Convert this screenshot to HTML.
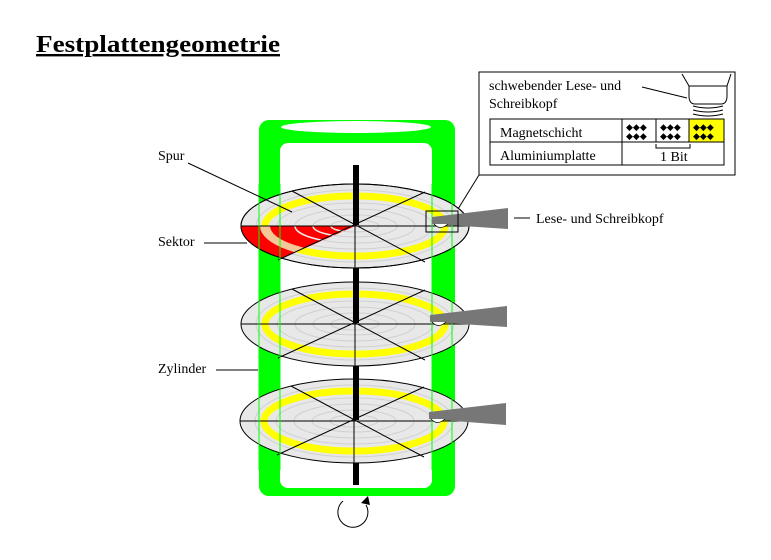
<!DOCTYPE html>
<html><head><style>
body{margin:0;background:#fff;width:771px;height:555px;overflow:hidden}
svg text{font-family:"Liberation Serif",serif}
</style></head><body>
<svg width="771" height="555" viewBox="0 0 771 555" xmlns="http://www.w3.org/2000/svg">
<defs>
<g id="disk">
  <ellipse cx="0" cy="0" rx="114" ry="42" fill="#e8e8e8" stroke="#000" stroke-width="1"/>
  <ellipse cx="0" cy="0" rx="90" ry="30" fill="none" stroke="#ffff00" stroke-width="7"/>
  <ellipse cx="0" cy="0" rx="99" ry="36" fill="none" stroke="#d0d0d0" stroke-width="1"/>
  <ellipse cx="0" cy="0" rx="78" ry="23" fill="none" stroke="#d0d0d0" stroke-width="1"/>
  <ellipse cx="0" cy="0" rx="60" ry="17" fill="none" stroke="#d0d0d0" stroke-width="1"/>
  <ellipse cx="0" cy="0" rx="42" ry="11" fill="none" stroke="#d0d0d0" stroke-width="1"/>
  <ellipse cx="0" cy="0" rx="24" ry="6" fill="none" stroke="#d0d0d0" stroke-width="1"/>
</g>
<g id="lines" stroke="#000" stroke-width="1">
  <line x1="-114" y1="0" x2="114" y2="0"/>
  <line x1="0" y1="-42" x2="0" y2="42"/>
  <line x1="-63" y1="-35" x2="70" y2="36"/>
  <line x1="70" y1="-34" x2="-77" y2="34"/>
</g>
<clipPath id="sec"><polygon points="0,0 -130,0 -130,46 -77,34"/></clipPath>
</defs>

<text x="36" y="52" font-size="24" font-weight="bold" text-decoration="underline" textLength="244" lengthAdjust="spacingAndGlyphs">Festplattengeometrie</text>

<!-- cylinder -->
<rect x="259" y="120" width="196" height="376" rx="10" fill="#00ff00"/>
<rect x="280" y="143" width="152" height="345" rx="8" fill="#fff"/>
<ellipse cx="356" cy="127" rx="75" ry="6" fill="#fff"/>
<rect x="353" y="165" width="6" height="320" fill="#000"/>

<!-- disk 1 -->
<g transform="translate(355,226)">
  <use href="#disk"/>
  <g clip-path="url(#sec)">
    <ellipse cx="0" cy="0" rx="114" ry="42" fill="#ff0000"/>
    <ellipse cx="0" cy="0" rx="95" ry="34" fill="#f2c898"/>
    <ellipse cx="0" cy="0" rx="85" ry="27" fill="#ff0000"/>
    <ellipse cx="0" cy="0" rx="60" ry="17" fill="none" stroke="#eee" stroke-width="1.5"/>
    <ellipse cx="0" cy="0" rx="42" ry="11" fill="none" stroke="#eee" stroke-width="1.5"/>
    <ellipse cx="0" cy="0" rx="24" ry="6" fill="none" stroke="#eee" stroke-width="1.5"/>
  </g>
  <ellipse cx="0" cy="0" rx="114" ry="42" fill="none" stroke="#000"/>
  <use href="#lines"/>
</g>
<!-- disk 2 -->
<g transform="translate(355,324)"><use href="#disk"/><use href="#lines"/></g>
<!-- disk 3 -->
<g transform="translate(354,421)"><use href="#disk"/><use href="#lines"/></g>

<!-- green outlines over disks -->
<g stroke="#00ff00" stroke-width="1">
<line x1="259" y1="184" x2="259" y2="470"/><line x1="280" y1="184" x2="280" y2="470"/>
<line x1="432" y1="184" x2="432" y2="470"/><line x1="452" y1="184" x2="452" y2="470"/>
</g>
<rect x="353" y="165" width="6" height="60" fill="#000"/>
<rect x="353" y="271" width="6" height="52" fill="#000"/>
<rect x="353" y="368" width="6" height="52" fill="#000"/>

<!-- heads -->
<g fill="#777">
<polygon points="432,217 508,208 508,229 432,224"/>
<polygon points="430,315 507,306 507,327 430,322"/>
<polygon points="429,412 506,403 506,425 429,419"/>
</g>
<g fill="#fff" stroke="#000" stroke-width="0.8">
<path d="M434,224 Q440,231 448,224"/>
<path d="M432,322 Q438,329 446,322"/>
<path d="M431,419 Q437,426 445,419"/>
</g>
<rect x="426" y="211" width="32" height="21" fill="none" stroke="#000"/>

<!-- rotation arrow -->
<path d="M343,501 A15,15 0 1 0 366,505" fill="none" stroke="#000"/>
<polygon points="361,503 368,496 370,505" fill="#000"/>

<!-- labels -->
<g font-size="14">
<text x="158" y="160">Spur</text>
<text x="158" y="246">Sektor</text>
<text x="158" y="373">Zylinder</text>
<text x="536" y="223">Lese- und Schreibkopf</text>
</g>
<g stroke="#000" stroke-width="1">
<line x1="188" y1="163" x2="292" y2="212"/>
<line x1="204" y1="243" x2="247" y2="243"/>
<line x1="216" y1="370" x2="258" y2="370"/>
<line x1="514" y1="218" x2="530" y2="218"/>
<line x1="458" y1="209" x2="479" y2="175"/>
</g>

<!-- inset -->
<rect x="479" y="72" width="256" height="103" fill="#fff" stroke="#000"/>
<g font-size="14">
<text x="489" y="90">schwebender Lese- und</text>
<text x="489" y="108">Schreibkopf</text>
</g>
<line x1="642" y1="87" x2="687" y2="98" stroke="#000"/>
<path d="M682,74 L689,86 L689,96 Q689,104 695,104 L721,104 Q727,104 727,96 L727,86 L731,74" fill="none" stroke="#000"/>
<line x1="689" y1="86" x2="727" y2="86" stroke="#000"/>
<g stroke="#000" fill="none">
<path d="M693,106 Q708,110 723,106"/><path d="M693,110 Q708,114 723,110"/><path d="M693,114 Q708,118 723,114"/>
</g>
<rect x="490" y="119" width="234" height="46" fill="#fff" stroke="#000"/>
<line x1="490" y1="142" x2="724" y2="142" stroke="#000"/>
<line x1="622" y1="119" x2="622" y2="165" stroke="#000"/>
<line x1="656" y1="119" x2="656" y2="142" stroke="#000"/>
<rect x="689" y="119" width="35" height="23" fill="#ffff00" stroke="#000"/>
<g font-size="14">
<text x="500" y="137">Magnetschicht</text>
<text x="500" y="160">Aluminiumplatte</text>
<text x="660" y="161">1 Bit</text>
</g>
<path d="M656,144 L656,148 L690,148 L690,144" fill="none" stroke="#000"/>
<g font-size="9" fill="#000">
<text x="626" y="130">◆◆◆</text><text x="626" y="139">◆◆◆</text>
<text x="660" y="130">◆◆◆</text><text x="660" y="139">◆◆◆</text>
<text x="693" y="130">◆◆◆</text><text x="693" y="139">◆◆◆</text>
</g>
</svg>
</body></html>
